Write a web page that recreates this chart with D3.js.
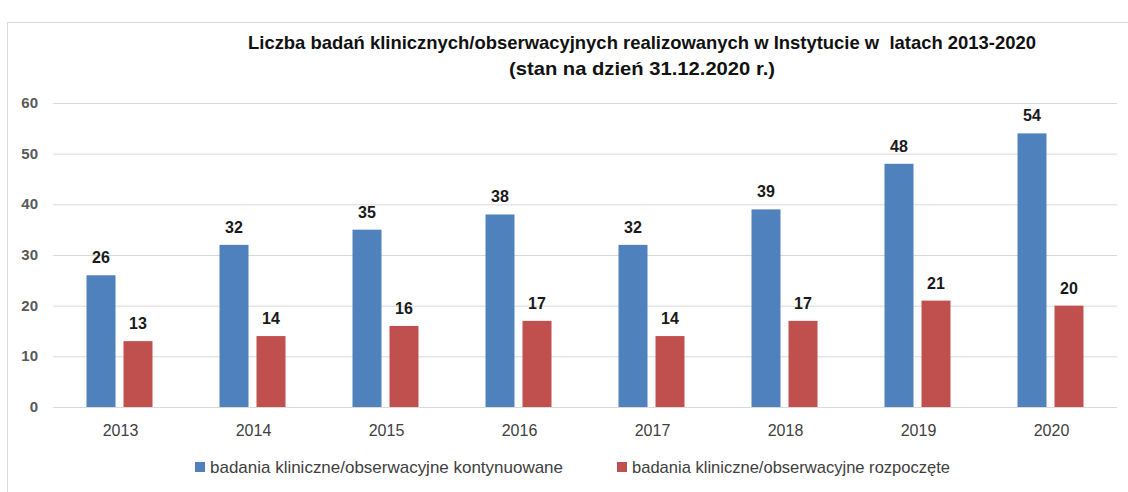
<!DOCTYPE html>
<html><head><meta charset="utf-8">
<script src="https://cdn.jsdelivr.net/npm/d3@7"></script>
<style>
body{margin:0;background:#fff;}
text{font-family:"Liberation Sans Narrow","Arial Narrow","Liberation Sans",sans-serif;white-space:pre;}
</style></head>
<body><svg id="c" width="1128" height="492"></svg>
<script>
const years = ["2013","2014","2015","2016","2017","2018","2019","2020"];
const continued = [26,32,35,38,32,39,48,54];
const started = [13,14,16,17,14,17,21,20];
const seriesNames = ["badania kliniczne/obserwacyjne kontynuowane","badania kliniczne/obserwacyjne rozpoczęte"];
const colors = ["#4F81BD","#C0504D"];
const yTicks = [0,10,20,30,40,50,60];
const titleLines = ["Liczba badań klinicznych/obserwacyjnych realizowanych w Instytucie w  latach 2013-2020","(stan na dzień 31.12.2020 r.)"];

const svg = d3.select("#c");
svg.append("rect").attr("x",7.5).attr("y",22.5).attr("width",1130).attr("height",480)
  .attr("fill","#fff").attr("stroke","#d9d9d9");

const x = d3.scaleBand().domain(years).range([53,1117]);
const y = d3.scaleLinear().domain([0,60]).range([407,103]);
const barW = 29, gap = 8;

svg.append("g").selectAll("line").data(yTicks).join("line")
  .attr("x1",53).attr("x2",1117).attr("y1",d=>y(d)+0.5).attr("y2",d=>y(d)+0.5)
  .attr("stroke","#d9d9d9").attr("stroke-width",1);

svg.append("g").selectAll("text").data(yTicks).join("text")
  .attr("x",38).attr("y",d=>y(d)+5).attr("text-anchor","end")
  .attr("font-size",15).attr("font-weight","bold").attr("fill","#595959").text(d=>d);

const series = [continued, started];
series.forEach((vals,si)=>{
  const off = si===0 ? -(barW+gap/2) : gap/2;
  const g = svg.append("g");
  g.selectAll("rect").data(vals).join("rect")
    .attr("x",(d,i)=>x(years[i])+x.bandwidth()/2+off)
    .attr("y",d=>y(d)).attr("width",barW).attr("height",d=>y(0)-y(d))
    .attr("fill",colors[si]);
  g.selectAll("text").data(vals).join("text")
    .attr("x",(d,i)=>x(years[i])+x.bandwidth()/2+off+barW/2)
    .attr("y",d=>y(d)-12).attr("text-anchor","middle")
    .attr("font-size",16).attr("font-weight","bold").attr("fill","#1a1a1a").text(d=>d);
});

svg.append("g").selectAll("text").data(years).join("text")
  .attr("x",d=>x(d)+x.bandwidth()/2+1).attr("y",436).attr("text-anchor","middle")
  .attr("font-size",16).attr("fill","#404040").text(d=>d);

const titleW = [788, 266];
svg.append("g").selectAll("text").data(titleLines).join("text")
  .attr("x",(d,i)=>642-titleW[i]/2).attr("y",(d,i)=>49+i*26)
  .attr("textLength",(d,i)=>titleW[i]).attr("lengthAdjust","spacingAndGlyphs")
  .attr("font-size",19).attr("font-weight","bold").attr("fill","#111").text(d=>d);

const legX = [195,617];
const legW = [353, 318];
const lg = svg.append("g");
seriesNames.forEach((n,i)=>{
  lg.append("rect").attr("x",legX[i]).attr("y",462).attr("width",10).attr("height",10).attr("fill",colors[i]);
  lg.append("text").attr("x",legX[i]+15).attr("y",473)
    .attr("textLength",legW[i]).attr("lengthAdjust","spacingAndGlyphs")
    .attr("font-size",17).attr("fill","#404040").text(n);
});
</script></body></html>
